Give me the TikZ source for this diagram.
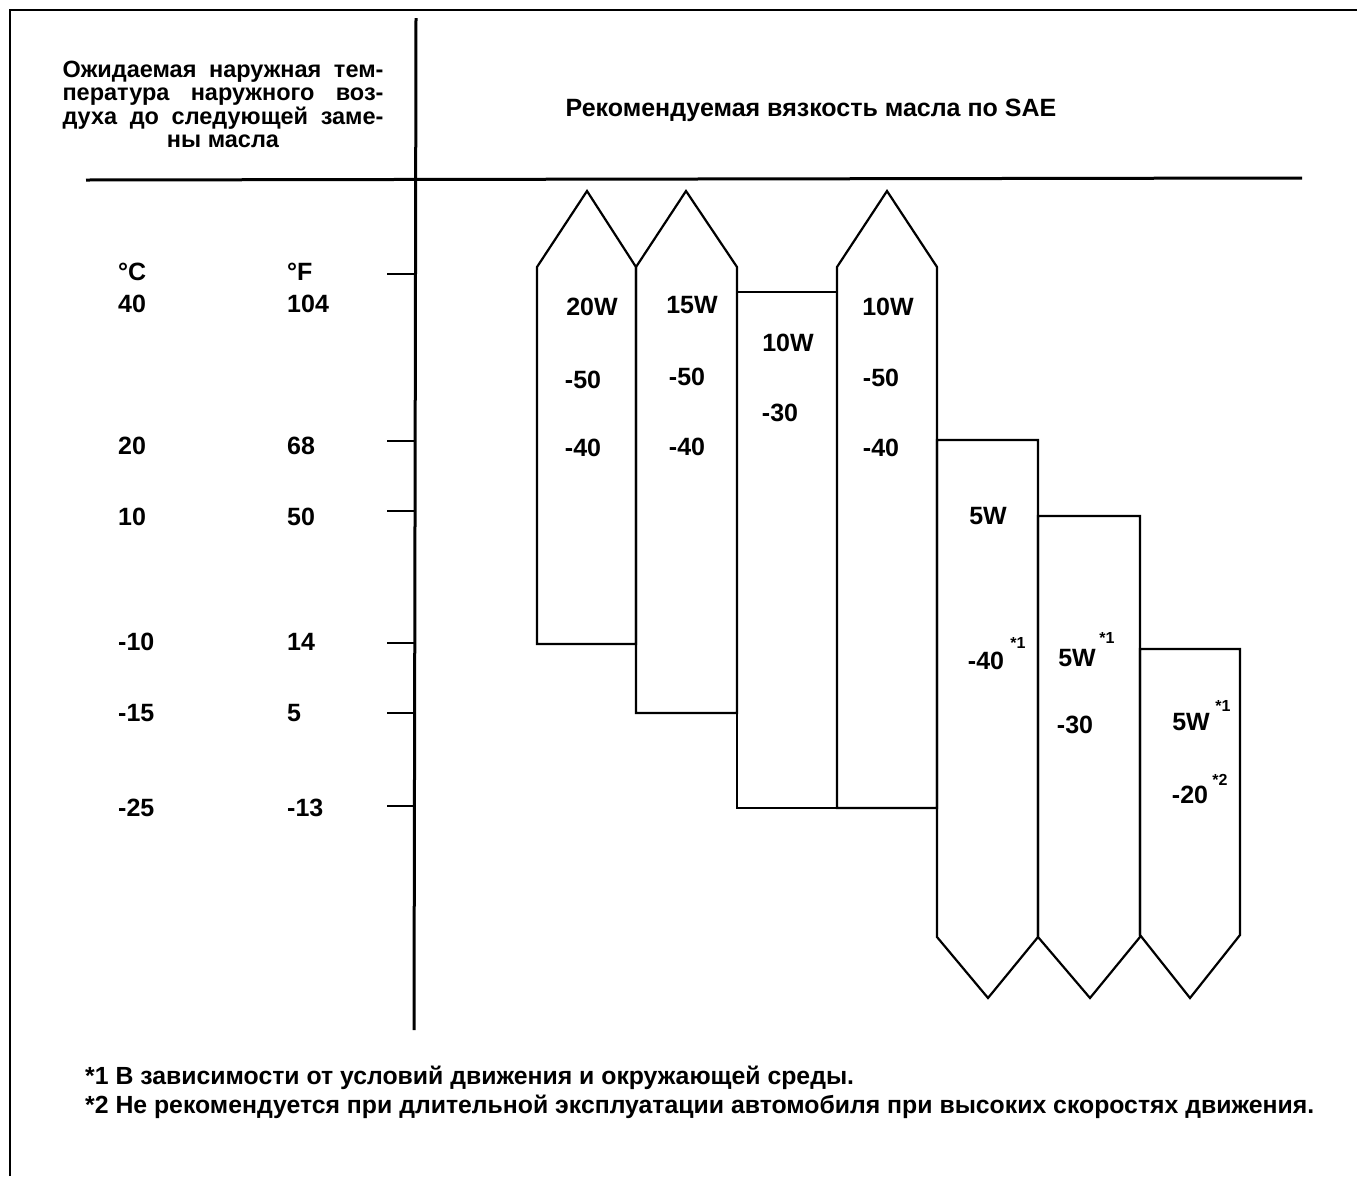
\documentclass[tikz,border=0pt]{standalone}
\usepackage{fontspec}
\setmainfont{Liberation Sans}
\begin{document}
\begin{tikzpicture}[x=1pt,y=-1pt,line join=miter,
    num/.style={font=\bfseries\fontsize{25}{28}\selectfont,inner sep=0pt},
    sup/.style={font=\bfseries\fontsize{16}{18}\selectfont,inner sep=0pt},
    hdr/.style={font=\bfseries\fontsize{25}{28}\selectfont,inner sep=0pt,align=center},
    hdrleft/.style={font=\bfseries\fontsize{23.5}{23.3}\selectfont,inner sep=0pt,align=center},
    note/.style={font=\bfseries\fontsize{24.8}{29}\selectfont,inner sep=0pt,align=left},
    oilbox/.style={draw,line width=2.2pt}]
    \useasboundingbox (0,0) rectangle (1357,1176);
    \draw[line width=2pt] (10,1176) -- (10,10) -- (1357,10);
    \draw[line width=3pt] (416,18) -- (414,1030);
    \draw[line width=3pt] (86,180) -- (1302,178);
    \foreach \y in {274,441,511,643,713,806}
        \draw[line width=2.5pt] (387,\y) -- (415,\y);
    \node[hdrleft,anchor=north] (hdrtemp) at (223,61)
        {\makebox[321pt][s]{Ожидаемая наружная тем-}\\
         \makebox[321pt][s]{пература наружного воз-}\\
         \makebox[321pt][s]{духа до следующей заме-}\\
         ны масла\hspace{22pt}};
    \node[hdr,anchor=base] (hdroil) at (811,116) {Рекомендуемая вязкость масла по SAE};
    \node[num,anchor=west] (degc) at (118,272) {°C};
    \node[num,anchor=west] (degf) at (287,272) {°F};
    \foreach \c/\f/\y [count=\i] in {40/104/304,20/68/446,10/50/517,-10/14/642,-15/5/713,-25/-13/808} {
        \node[num,anchor=west] (c\i) at (118,\y) {\c};
        \node[num,anchor=west] (f\i) at (287,\y) {\f};
    }
    \draw[oilbox] (537,644) -- (537,267) -- (587,191) -- (636,267) -- (636,644) -- cycle;
    \draw[oilbox] (636,713) -- (636,267) -- (686,191) -- (737,267) -- (737,713) -- cycle;
    \draw[oilbox] (737,808) rectangle (837,292);
    \draw[oilbox] (837,808) -- (837,267) -- (887,191) -- (937,267) -- (937,808) -- cycle;
    \draw[oilbox] (937,440) -- (1038,440) -- (1038,937) -- (988,998) -- (937,937) -- cycle;
    \draw[oilbox] (1038,516) -- (1140,516) -- (1140,937) -- (1090,998) -- (1038,937) -- cycle;
    \draw[oilbox] (1140,649) -- (1240,649) -- (1240,935) -- (1190,998) -- (1140,935) -- cycle;
    \node[num] (wa) at (592,307) {20W};
    \node[num] (wahi) at (583,380) {-50};
    \node[num] (walo) at (583,448) {-40};
    \node[num] (wb) at (692,305) {15W};
    \node[num] (wbhi) at (687,377) {-50};
    \node[num] (wblo) at (687,447) {-40};
    \node[num] (wc) at (788,343) {10W};
    \node[num] (wchi) at (780,413) {-30};
    \node[num] (wd) at (888,307) {10W};
    \node[num] (wdhi) at (881,378) {-50};
    \node[num] (wdlo) at (881,448) {-40};
    \node[num] (we) at (988,516) {5W};
    \node[num] (wehi) at (986,661) {-40};
    \node[sup] (nea) at (1018,643) {*1};
    \node[num] (wf) at (1077,658) {5W};
    \node[sup] (nfa) at (1107,638) {*1};
    \node[num] (wfhi) at (1075,725) {-30};
    \node[num] (wg) at (1191,722) {5W};
    \node[sup] (nga) at (1223,706) {*1};
    \node[num] (wghi) at (1190,795) {-20};
    \node[sup] (ngb) at (1220,780) {*2};
    \node[note,anchor=base west] (notes) at (85,1113)
        {*1 В зависимости от условий движения и окружающей среды.\\
         *2 Не рекомендуется при длительной эксплуатации автомобиля при высоких скоростях движения.};
\end{tikzpicture}
\end{document}
